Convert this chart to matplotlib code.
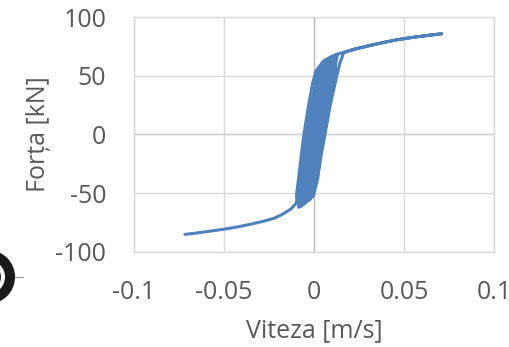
import matplotlib
matplotlib.use("Agg")
import matplotlib.pyplot as plt
from matplotlib.patches import Circle
from matplotlib.transforms import IdentityTransform

plt.rcParams["font.family"] = ["Open Sans", "DejaVu Sans"]
plt.rcParams["axes.unicode_minus"] = False

# viteza [m/s] si forta [kN] pe ciclurile amortizorului
viteza = [
    # ramura negativa, spre centru
    -0.0717, -0.065, -0.058, -0.05, -0.042, -0.035, -0.028, -0.022, -0.017, -0.0125, -0.0096,
    # ciclul 1 (marginile buclei)
    -0.0096, -0.0082, -0.0069, -0.0056, -0.0031, -0.0007, 0.0011, 0.0052, 0.0095, 0.0125,
    0.0165, 0.022, 0.029, 0.037, 0.046, 0.055, 0.063, 0.0709,
    0.063, 0.055, 0.046, 0.037, 0.029, 0.022, 0.0165,
    0.0154, 0.0144, 0.0122, 0.0089, 0.0061, 0.0039, 0.002, -0.0004, -0.0045, -0.0085,
    # ciclul 2
    -0.0082, -0.0066, -0.0052, -0.0038, -0.0013, 0.0012, 0.0029, 0.0115,
    0.0121, 0.0106, 0.0077, 0.0049, 0.0031, 0.0014, -0.0010, -0.003,
    # ciclul 3
    -0.0067, -0.0050, -0.0036, -0.0021, 0.0005, 0.0031, 0.0048, 0.0100,
    0.0103, 0.0087, 0.0059, 0.0032, 0.0014, -0.0002, -0.0024, -0.0055,
    # ciclul 4
    -0.0053, -0.0034, -0.0019, -0.0003, 0.0023, 0.0049, 0.0066, 0.0088,
    0.0084, 0.0068, 0.0041, 0.0014, -0.0002, -0.0018, -0.0038, -0.0045,
    # ciclul 5
    -0.0082, -0.0066, -0.0052, -0.0038, -0.0013, 0.0012, 0.0029, 0.0075,
    0.0066, 0.0049, 0.0023, -0.0003, -0.0019, -0.0034, -0.0053, -0.007,
    # ciclul 6
    -0.0074, -0.0058, -0.0044, -0.0029, -0.0004, 0.0022, 0.0039, 0.0130,
    0.0112, 0.0096, 0.0068, 0.0040, 0.0022, 0.0006, -0.0017, -0.002,
    # ciclul 7
    -0.0045, -0.0026, -0.0010, 0.0005, 0.0032, 0.0058, 0.0075, 0.0115,
    0.0094, 0.0077, 0.0050, 0.0023, 0.0006, -0.0010, -0.0031, -0.006,
    # ciclul 8
    -0.0060, -0.0042, -0.0027, -0.0012, 0.0014, 0.0040, 0.0057,
]
forta = [
    -85.0, -83.8, -82.3, -80.6, -78.5, -76.3, -73.8, -71.2, -67.5, -63.0, -58.0,
    -50, -33, -16, 0, 24, 44, 54, 62.4, 66.2, 68.3,
    69.8, 72.4, 75.0, 77.8, 80.6, 82.7, 84.3, 85.7,
    84.3, 82.7, 80.6, 77.8, 75.0, 72.4, 69.8,
    65, 61, 46.8, 24, 0, -18.4, -38, -52.5, -57.5, -62,
    -50, -33, -16, 0, 24, 44, 54, 67.2,
    54, 44, 24, 0, -16, -33, -50, -56,
    -50, -33, -16, 0, 24, 44, 54, 66.0,
    54, 44, 24, 0, -16, -33, -50, -59,
    -50, -33, -16, 0, 24, 44, 54, 65.0,
    54, 44, 24, 0, -16, -33, -50, -58,
    -50, -33, -16, 0, 24, 44, 54, 64.0,
    54, 44, 24, 0, -16, -33, -50, -61,
    -50, -33, -16, 0, 24, 44, 54, 67.6,
    54, 44, 24, 0, -16, -33, -50, -55,
    -50, -33, -16, 0, 24, 44, 54, 67.0,
    54, 44, 24, 0, -16, -33, -50, -59.5,
    -50, -33, -16, 0, 24, 44, 54,
]

x_ticks = [-0.1, -0.05, 0, 0.05, 0.1]
x_labels = ["-0.1", "-0.05", "0", "0.05", "0.1"]
y_ticks = [-100, -50, 0, 50, 100]

grey = "#595959"

fig = plt.figure(figsize=(5.10, 3.47), dpi=100)
ax = fig.add_axes([0.2627, 0.2738, 0.7059, 0.6772])

ax.plot(viteza, forta, color="#4F81BD", linewidth=2.2, solid_joinstyle="round",
        solid_capstyle="round", zorder=3)

ax.set_xlim(-0.1, 0.1)
ax.set_ylim(-100, 100)
ax.set_xticks(x_ticks)
ax.set_xticklabels(x_labels)
ax.set_yticks(y_ticks)
ax.grid(True, color="#D9D9D9", linewidth=1.0)
ax.axvline(0, color="#BFBFBF", linewidth=1.0, zorder=2)
ax.axhline(0, color="#D0D0D0", linewidth=1.0, zorder=2)
for s in ax.spines.values():
    s.set_color("#D9D9D9")
    s.set_linewidth(1.0)
ax.tick_params(length=0, labelsize=18, colors=grey)
ax.tick_params(axis="y", pad=20)
ax.tick_params(axis="x", pad=20)

ax.set_xlabel("Viteza [m/s]", fontsize=18, color=grey, labelpad=10)
ax.set_ylabel("Forța [kN]", fontsize=18, color=grey, labelpad=3)

# simbolul taiat din marginea stanga
fig.add_artist(Circle((-12, 70), 22, transform=IdentityTransform(),
                      facecolor="none", edgecolor="#1a1a1a", linewidth=7.2))
fig.add_artist(Circle((-12, 70), 10, transform=IdentityTransform(),
                      facecolor="none", edgecolor="#2a2a2a", linewidth=4.3))
fig.add_artist(plt.Line2D([15, 23], [70, 70], transform=IdentityTransform(),
                          color="#999999", linewidth=0.8))

fig.savefig("out.png", dpi=100)
